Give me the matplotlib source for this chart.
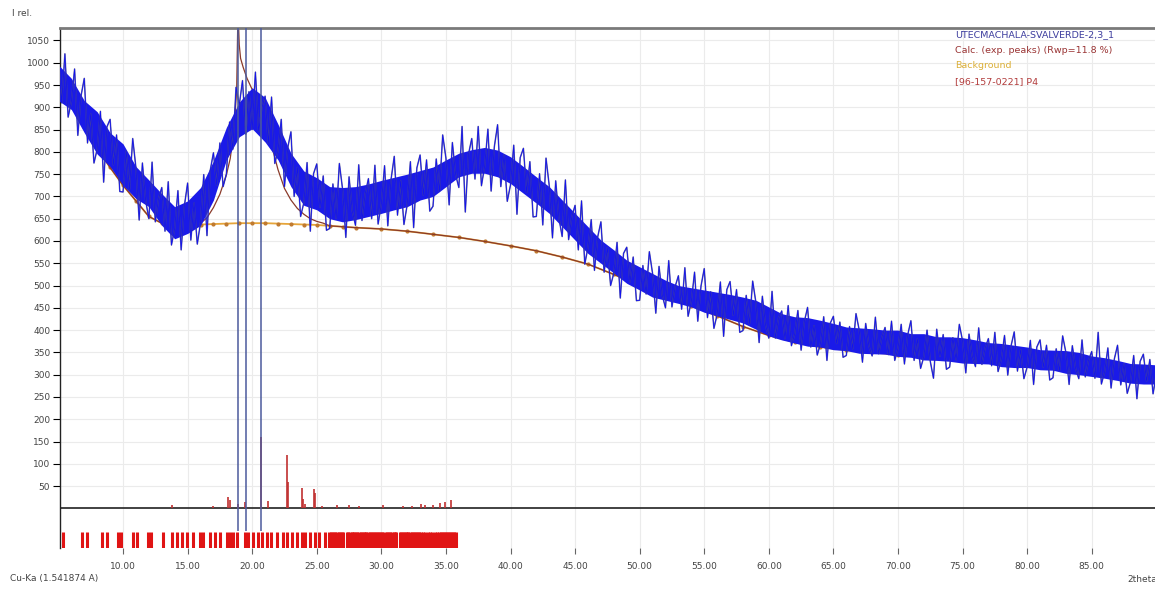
import numpy as np
import matplotlib
matplotlib.use("Agg")
import matplotlib.pyplot as plt

obs_counts = [
    1010, 910, 1020, 878,  913, 986, 837, 926,  965, 820, 885, 775,  806, 891, 732, 856,
    873, 771, 838, 711,  710, 802, 716, 830,  764, 647, 775, 691,  650, 777, 643, 695,
    720, 622, 733, 591,  628, 713, 580, 679,  730, 602, 685, 593,  641, 749, 612, 758,
    798, 725, 820, 722,  750, 867, 806, 945,  905, 960, 840, 935,  850, 979, 846, 899,
    925, 819, 923, 774,  803, 873, 722, 809,  845, 700, 765, 655,  686, 776, 622, 751,
    773, 676, 746, 624,  628, 728, 651, 774,  716, 608, 744, 667,  635, 771, 646, 706,
    740, 650, 770, 638,  683, 769, 634, 738,  790, 658, 735, 637,  681, 778, 630, 764,
    793, 703, 782, 667,  678, 784, 711, 838,  786, 681, 821, 749,  720, 857, 665, 795,
    830, 739, 857, 724,  768, 851, 712, 812,  861, 722, 793, 689,  726, 815, 660, 787,
    808, 709, 778, 654,  655, 751, 636, 786,  724, 607, 735, 651,  610, 737, 603, 655,
    680, 580, 690, 548,  586, 648, 534, 609,  643, 530, 585, 500,  528, 597, 472, 572,
    586, 508, 564, 466,  467, 545, 481, 576,  527, 438, 543, 478,  450, 556, 452, 498,
    522, 447, 540, 431,  464, 530, 420, 499,  538, 428, 486, 404,  435, 508, 386, 491,
    509, 433, 491, 395,  399, 478, 414, 510,  462, 372, 476, 411,  382, 487, 382, 427,
    443, 381, 455, 365,  391, 444, 355, 419,  451, 362, 410, 344,  370, 430, 332, 415,
    431, 370, 418, 339,  343, 408, 358, 437,  400, 328, 415, 364,  342, 429, 347, 384,
    406, 345, 420, 332,  359, 413, 324, 389,  421, 332, 380, 314,  340, 400, 330, 292,
    402, 341, 390, 312,  317, 383, 333, 413,  376, 304, 391, 341,  318, 405, 323, 360,
    381, 320, 395, 307,  334, 388, 299, 364,  396, 308, 356, 291,  317, 377, 278, 362,
    378, 317, 366, 288,  293, 358, 308, 387,  350, 278, 365, 314,  291, 378, 295, 332,
    352, 292, 395, 279,  306, 360, 270, 335,  366, 277, 324, 258,  283, 343, 246, 330,
    346, 286, 334, 257,  300,
]
obs_tt = np.linspace(5.0, 90.0, len(obs_counts))

# dense core of the noisy trace, read every 1 deg from 5 to 90
band_lo = [915, 895, 843, 795, 767, 725, 695, 677, 635, 605, 617, 635, 692, 782, 834,
           852, 822, 782, 722, 680, 670, 650, 643, 648, 655, 662, 670, 677, 692, 700,
           722, 744, 752, 752, 744, 729, 707, 685, 662, 632, 602, 572, 550, 528, 505,
           490, 474, 467, 460, 452, 440, 432, 424, 416, 402, 387, 378, 371, 364, 362,
           356, 354, 348, 347, 346, 341, 339, 333, 332, 330, 326, 325, 324, 318, 316,
           316, 311, 310, 303, 300, 296, 292, 287, 281, 279, 279]
band_hi = [995, 965, 915, 890, 843, 818, 767, 737, 706, 677, 690, 720, 780, 855, 912,
           944, 922, 862, 797, 757, 742, 722, 720, 722, 728, 736, 743, 750, 758, 766,
           782, 797, 805, 810, 804, 789, 767, 744, 722, 692, 662, 632, 602, 580, 557,
           542, 527, 512, 500, 495, 490, 485, 480, 474, 467, 452, 437, 430, 428, 422,
           415, 407, 405, 403, 400, 400, 392, 392, 385, 385, 383, 378, 372, 370, 366,
           362, 356, 355, 354, 350, 342, 338, 332, 325, 324, 322]
band_tt = np.linspace(5.0, 90.0, len(band_lo))

# background spline points
bg_tt = [5, 6, 7, 8, 9, 10, 11, 12, 13, 14, 15, 16, 17, 18, 19, 20, 21, 22, 23, 24,
         25, 26, 27, 28, 30, 32, 34, 36, 38, 40, 42, 44, 46, 48, 50, 52, 54, 56, 58,
         60, 62, 64, 66, 68, 70, 72, 74, 76, 78, 80, 82, 84, 86, 88, 90]
bg_counts = [960, 905, 855, 808, 765, 725, 690, 655, 640, 637, 636, 637, 638, 639,
             640, 640, 640, 639, 638, 637, 636, 634, 632, 630, 627, 622, 615, 608,
             599, 589, 578, 564, 548, 525, 500, 477, 455, 432, 408, 388, 373, 362,
             355, 350, 345, 340, 336, 332, 328, 325, 322, 319, 315, 307, 298]

# calculated profile in the peak region (outside it follows the background)
peak_tt = [16.0, 16.5, 17.0, 17.5, 18.0, 18.3, 18.6, 18.8, 18.9, 19.0, 19.1, 19.3,
           19.6, 20.0, 20.4, 20.7, 21.0, 21.5, 22.0, 22.5, 23.0, 23.5, 24.0, 24.5,
           25.0, 25.5]
peak_counts = [640, 652, 675, 705, 748, 785, 850, 940, 1120, 1040, 1010, 990,
               965, 940, 915, 900, 870, 815, 760, 718, 692, 673, 660, 650, 644, 640]

# positions of the fitted (exp.) peaks
exp_peaks = [18.9, 19.5, 20.68]

# reference pattern [96-157-0221] sticks
pat_tt = [13.76, 17.0, 18.13, 18.25, 18.9, 19.44, 20.65, 21.2, 22.72, 22.8, 23.83,
          23.95, 24.12, 24.78, 24.9, 25.4, 26.6, 27.5, 28.3, 30.1, 31.67, 32.34,
          33.1, 33.37, 34.0, 34.53, 34.9, 35.4]
pat_h = [8, 5, 26, 18, 10, 15, 160, 16, 120, 60, 45, 20, 10, 43, 35, 6, 7, 8, 5, 8,
         5, 6, 10, 8, 8, 12, 15, 18]

# reflection positions (tick marks under the zero line)
hkl_tt = [5.38, 6.80, 7.24, 8.35, 8.78, 9.64, 9.82, 10.80, 11.05, 11.96, 12.14,
          13.12, 13.76, 14.15, 14.53, 14.92, 15.44, 15.96, 16.21, 16.73, 17.12,
          17.50, 18.02, 18.28, 18.53, 18.84, 19.44, 19.70, 20.08, 20.47, 20.73,
          21.12, 21.42, 21.89, 22.35, 22.66, 23.05, 23.44, 23.82, 24.08, 24.47,
          24.86, 25.19, 25.63, 25.95, 26.08, 26.20, 26.33, 26.45, 26.58, 26.70,
          26.82, 26.95, 27.05, 27.35, 27.45, 27.58, 27.70, 27.82, 27.92, 28.05,
          28.15, 28.28, 28.40, 28.50, 28.62, 28.75, 28.85, 28.97, 29.10, 29.20,
          29.32, 29.45, 29.55, 29.68, 29.80, 29.90, 30.02, 30.12, 30.35, 30.47,
          30.58, 30.70, 30.82, 30.95, 31.05, 31.15, 31.42, 31.52, 31.65, 31.75,
          31.88, 32.00, 32.10, 32.22, 32.35, 32.45, 32.58, 32.70, 32.80, 32.92,
          33.05, 33.20, 33.40, 33.60, 33.75, 33.95, 34.15, 34.30, 34.45, 34.60,
          34.72, 34.85, 34.95, 35.05, 35.18, 35.30, 35.42, 35.55, 35.65, 35.78]

legend_lines = ["UTECMACHALA-SVALVERDE-2,3_1", "Calc. (exp. peaks) (Rwp=11.8 %)",
                "Background", "[96-157-0221] P4"]
legend_colors = ["#3d3d9e", "#9a3434", "#dcb038", "#b23c3c"]

calc_tt = [t for t in bg_tt if t < peak_tt[0]] + peak_tt + [t for t in bg_tt if t > peak_tt[-1]]
calc_counts = ([c for t, c in zip(bg_tt, bg_counts) if t < peak_tt[0]] + peak_counts
               + [c for t, c in zip(bg_tt, bg_counts) if t > peak_tt[-1]])

W, H = 1155, 592
fig = plt.figure(figsize=(W / 100, H / 100), dpi=100)
ax = fig.add_axes([60 / W, 44 / H, 1 - 60 / W, 520 / H])

ax.set_xlim(5.12, 89.9)
ax.set_ylim(-89, 1078)

ax.set_xticks(np.arange(10, 90, 5))
ax.set_xticklabels([f"{v:.2f}" for v in np.arange(10, 90, 5)])
ax.set_yticks(np.arange(50, 1051, 50))
ax.grid(True, color="#ebebeb", lw=0.8, zorder=0)
ax.set_axisbelow(True)

ax.tick_params(axis="y", direction="out", length=5, width=0.8, labelsize=6.5,
               labelcolor="#444444", pad=2)
ax.tick_params(axis="x", direction="out", length=4, width=0.8, labelsize=6.5,
               labelcolor="#444444", color="#666666", pad=6)

for s in ["right", "bottom"]:
    ax.spines[s].set_visible(False)
ax.spines["top"].set_color("#7a7a7a")
ax.spines["top"].set_linewidth(2)
ax.spines["left"].set_color("#222222")
ax.spines["left"].set_linewidth(1)

ax.axhline(0, color="#333333", lw=1.3, zorder=2)

ax.plot(bg_tt, bg_counts, color="#e6a53a", lw=1.3, marker="o", ms=2.0,
        mfc="#c07a30", mec="#c07a30", zorder=2)
ax.plot(calc_tt, calc_counts, color="#8a3a2a", lw=0.9, zorder=2.5)

ax.fill_between(band_tt, band_lo, band_hi, color="#1a1ae8", lw=0, zorder=2.8)
ax.plot(obs_tt, obs_counts, color="#4e4e88", lw=1.1, alpha=0.8, zorder=3)
ax.plot(obs_tt, obs_counts, color="#1212ee", lw=0.6, zorder=3.1)

ax.vlines(exp_peaks, -50, 1078, color="#4b5a9c", lw=1.1, zorder=4)
ax.vlines(pat_tt, 0, pat_h, color="#c03030", lw=1.2, zorder=3)
ax.vlines(hkl_tt, -88, -52, color="#e01414", lw=2.2, zorder=3)

fig.text(12 / W, 1 - 14 / H, "I rel.", fontsize=6.5, color="#444444", va="center")
fig.text(10 / W, 1 - 578 / H, "Cu-Ka (1.541874 A)", fontsize=6.5, color="#444444",
         va="center")
fig.text(1127 / W, 1 - 580 / H, "2theta", fontsize=6.5, color="#444444", va="center")

for i, (txt, col) in enumerate(zip(legend_lines, legend_colors)):
    fig.text(955 / W, 1 - (35 + 15.5 * i) / H, txt, fontsize=6.8, color=col,
             va="center")

fig.savefig("out.png", dpi=100)
